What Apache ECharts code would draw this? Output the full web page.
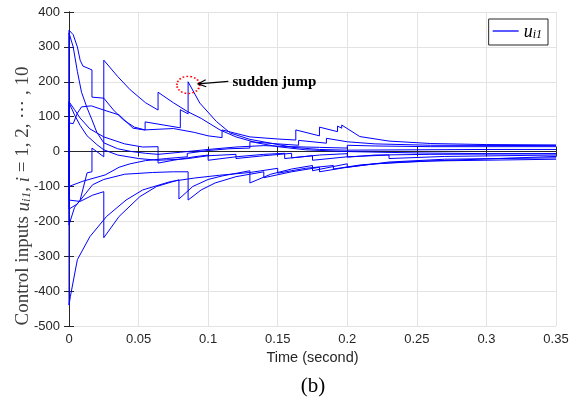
<!DOCTYPE html>
<html>
<head>
<meta charset="utf-8">
<script src="https://cdn.jsdelivr.net/npm/echarts@6/dist/echarts.min.js"></script>
<style>
  html, body { margin: 0; padding: 0; background: #fff; }
  #chart { width: 577px; height: 410px; }
</style>
</head>
<body>
<div id="chart"></div>
<script>
// axis ranges
const xMin = 0, xMax = 0.35, xStep = 0.05
const yMin = -500, yMax = 400, yStep = 100

// control inputs u_i1, i = 1..10  ([time, value])
const u1 = [[0,0],[0,348],[0.003,335],[0.006,300],[0.008,262],[0.01,245],[0.0165,234],[0.0165,156],[0.025,153],[0.032,119],[0.039,91],[0.047,70],[0.0547,62],[0.0547,85],[0.08,68],[0.08,120],[0.0856,108],[0.0856,200],[0.094,139],[0.106,86],[0.116,53],[0.13,35],[0.145,24],[0.161,12],[0.18,6],[0.2,4],[0.25,5],[0.3,6],[0.35,6]]
const u2 = [[0,0],[0,340],[0.003,300],[0.006,230],[0.009,170],[0.013,125],[0.0165,91],[0.02,55],[0.025,25],[0.035,8],[0.045,0],[0.055,-5],[0.064,-8],[0.08,-2],[0.1,6],[0.12,13],[0.14,17],[0.16,14],[0.18,12],[0.2,10],[0.2,18],[0.22,16],[0.26,14],[0.35,14]]
const u3 = [[0,0],[0,-210],[0.004,-160],[0.008,-139],[0.013,-61],[0.0165,-58],[0.0165,10],[0.025,-15],[0.025,262],[0.035,215],[0.044,177],[0.055,140],[0.064,119],[0.064,170],[0.075,140],[0.085,115],[0.095,95],[0.1085,62],[0.12,42],[0.135,25],[0.15,14],[0.17,5],[0.2,0],[0.25,-4],[0.3,-6],[0.35,-6]]
const u4 = [[0,0],[0,143],[0.004,120],[0.008,96],[0.015,65],[0.025,42],[0.04,22],[0.053,13],[0.064,14],[0.064,-33],[0.075,-25],[0.09,-15],[0.1,-10],[0.1,-25],[0.12,-15],[0.14,-8],[0.155,-5],[0.155,-20],[0.175,-12],[0.175,-25],[0.2,-15],[0.23,-10],[0.23,-20],[0.27,-14],[0.35,-10]]
const u5 = [[0,0],[0,82],[0.003,80],[0.006,110],[0.009,128],[0.016,131],[0.025,119],[0.036,105],[0.046,67],[0.054,62],[0.075,66],[0.09,55],[0.1,45],[0.11,40],[0.11,62],[0.13,42],[0.15,36],[0.163,33],[0.163,62],[0.18,45],[0.18,70],[0.193,57],[0.193,73],[0.196,67],[0.196,76],[0.209,43],[0.23,30],[0.26,23],[0.3,20],[0.35,19]]
const u6 = [[0,0],[0,-100],[0.01,-85],[0.026,-67],[0.036,-45],[0.044,-35],[0.055,-26],[0.07,-20],[0.085,-15],[0.085,-5],[0.1,3],[0.115,8],[0.13,10],[0.13,28],[0.15,22],[0.165,18],[0.165,32],[0.185,24],[0.185,38],[0.2,28],[0.22,22],[0.26,18],[0.35,17]]
const u7 = [[0,0],[0,-139],[0.008,-143],[0.017,-125],[0.025,-115],[0.025,-247],[0.036,-186],[0.051,-129],[0.063,-100],[0.079,-81],[0.079,-136],[0.089,-100],[0.1,-80],[0.11,-70],[0.13,-55],[0.13,-90],[0.145,-65],[0.16,-50],[0.175,-40],[0.175,-55],[0.2,-35],[0.2,-45],[0.23,-30],[0.27,-22],[0.35,-18]]
const u8 = [[0,0],[0,-165],[0.006,-150],[0.012,-120],[0.017,-95],[0.025,-80],[0.04,-65],[0.06,-60],[0.075,-58],[0.0856,-58],[0.0856,-139],[0.095,-110],[0.105,-90],[0.12,-72],[0.13,-65],[0.14,-58],[0.14,-75],[0.16,-58],[0.18,-45],[0.18,-58],[0.2,-45],[0.22,-35],[0.26,-27],[0.35,-22]]
const u9 = [[0,0],[0,-440],[0.001,-415],[0.006,-310],[0.015,-244],[0.027,-186],[0.041,-139],[0.053,-110],[0.073,-86],[0.09,-76],[0.108,-68],[0.13,-60],[0.15,-48],[0.15,-62],[0.17,-48],[0.19,-40],[0.19,-50],[0.21,-38],[0.24,-30],[0.28,-24],[0.35,-14]]
const u10 = [[0,0],[0,140],[0.004,105],[0.008,75],[0.013,45],[0.02,20],[0.025,5],[0.035,-10],[0.05,-20],[0.064,-25],[0.08,-22],[0.0856,-20],[0.1,-12],[0.12,-8],[0.12,-20],[0.14,-12],[0.16,-5],[0.16,-18],[0.18,-10],[0.2,-6],[0.2,-16],[0.22,-10],[0.26,-8],[0.35,-6]]

const seriesList = [u1, u2, u3, u4, u5, u6, u7, u8, u9, u10]

// annotation anchors (data coords)
const jumpCircle = [0.0857, 191]
const arrowHead = [0.0927, 194]
const arrowTail = [0.1145, 201]
const jumpLabel = [0.1175, 199]

const axisColor = '#262626'
const gridColor = '#e3e3e3'
const fmtX = v => String(Math.round(v * 100) / 100)

const chart = echarts.init(document.getElementById('chart'))

const option = {
  animation: false,
  backgroundColor: '#fff',
  grid: { left: 69, right: 21, top: 12, bottom: 84 },
  legend: {
    data: ['ui1'],
    right: 29,
    top: 19,
    padding: [4, 6, 4, 4],
    itemWidth: 26,
    itemHeight: 1.3,
    itemGap: 0,
    icon: 'rect',
    borderColor: axisColor,
    borderWidth: 1,
    backgroundColor: '#fff',
    formatter: () => '{i|u}{s|i1}',
    textStyle: {
      rich: {
        i: { fontFamily: 'Liberation Serif', fontStyle: 'italic', fontSize: 18, color: '#000', lineHeight: 20, verticalAlign: 'bottom' },
        s: { fontFamily: 'Liberation Serif', fontStyle: 'italic', fontSize: 12, color: '#000', lineHeight: 14, verticalAlign: 'bottom' }
      }
    }
  },
  xAxis: [
    {
      type: 'value', min: xMin, max: xMax, interval: xStep, position: 'bottom',
      name: 'Time (second)', nameLocation: 'middle', nameGap: 23,
      nameTextStyle: { fontFamily: 'Liberation Sans', fontSize: 14.5, color: axisColor },
      axisLine: { lineStyle: { color: axisColor, width: 1 } },
      axisTick: { inside: true, length: 5, lineStyle: { color: axisColor } },
      axisLabel: { margin: 7, fontFamily: 'Liberation Sans', fontSize: 13, color: axisColor, formatter: fmtX },
      splitLine: { show: true, lineStyle: { color: gridColor, width: 1 } }
    },
    {
      type: 'value', min: xMin, max: xMax, interval: xStep, position: 'top',
      axisLine: { lineStyle: { color: axisColor, width: 1 } },
      axisTick: { inside: true, length: 5, lineStyle: { color: axisColor } },
      axisLabel: { show: false },
      splitLine: { show: false }
    }
  ],
  yAxis: [
    {
      type: 'value', min: yMin, max: yMax, interval: yStep, position: 'left',
      axisLine: { show: true, lineStyle: { color: axisColor, width: 1 } },
      axisTick: { show: true, inside: true, length: 5, lineStyle: { color: axisColor } },
      axisLabel: { margin: 9, fontFamily: 'Liberation Sans', fontSize: 13, color: axisColor },
      splitLine: { show: true, lineStyle: { color: gridColor, width: 1 } }
    },
    {
      type: 'value', min: yMin, max: yMax, interval: yStep, position: 'right',
      axisLine: { show: true, lineStyle: { color: axisColor, width: 1 } },
      axisTick: { show: true, inside: true, length: 5, lineStyle: { color: axisColor } },
      axisLabel: { show: false },
      splitLine: { show: false }
    }
  ],
  series: seriesList.map((d, i) => ({
    name: i === 0 ? 'ui1' : 'u' + (i + 1),
    type: 'line',
    data: d,
    xAxisIndex: 0,
    yAxisIndex: 0,
    showSymbol: false,
    symbol: 'none',
    clip: true,
    z: 3,
    lineStyle: { color: '#0000ff', width: 1 },
    itemStyle: { color: '#0000ff' }
  }))
}

chart.setOption(option)

// annotation + titles drawn after the scales are known
const px = p => chart.convertToPixel({ xAxisIndex: 0, yAxisIndex: 0 }, p)
const c = px(jumpCircle)
const h = px(arrowHead)
const t = px(arrowTail)
const l = px(jumpLabel)
const ang = Math.atan2(h[1] - t[1], h[0] - t[0])
const aLen = 8, aW = 3.5
const wing = s => [h[0] - aLen * Math.cos(ang) + s * aW * Math.sin(ang), h[1] - aLen * Math.sin(ang) - s * aW * Math.cos(ang)]

chart.setOption({
  graphic: [
    {
      type: 'circle', x: c[0], y: c[1], scaleX: 1.2, scaleY: 0.9, z: 10,
      shape: { cx: 0, cy: 0, r: 9.5 },
      style: { fill: 'none', stroke: '#ff0000', lineWidth: 1.6, lineDash: [1.5, 1.8] }
    },
    {
      type: 'line', z: 10,
      shape: { x1: t[0], y1: t[1], x2: h[0], y2: h[1] },
      style: { stroke: '#000', lineWidth: 1.2 }
    },
    {
      type: 'polyline', z: 10,
      shape: { points: [wing(1), h, wing(-1)] },
      style: { stroke: '#000', lineWidth: 1.2, fill: 'none' }
    },
    {
      type: 'text', x: l[0], y: l[1], z: 10,
      style: { text: 'sudden jump', fontFamily: 'Liberation Serif', fontWeight: 'bold', fontSize: 15, fill: '#000', align: 'left', verticalAlign: 'middle' }
    },
    {
      type: 'text', x: 22, y: 196, rotation: Math.PI / 2,
      style: {
        text: '{n|Control inputs }{i|u}{s|i1}{n|, }{i|i}{n| = 1, 2, ⋯ , 10}',
        align: 'center', verticalAlign: 'middle',
        rich: {
          n: { fontFamily: 'Liberation Serif', fontSize: 19, fill: '#404040', lineHeight: 22, verticalAlign: 'bottom' },
          i: { fontFamily: 'Liberation Serif', fontStyle: 'italic', fontSize: 19, fill: '#404040', lineHeight: 22, verticalAlign: 'bottom' },
          s: { fontFamily: 'Liberation Serif', fontStyle: 'italic', fontSize: 13, fill: '#404040', lineHeight: 15, verticalAlign: 'bottom' }
        }
      }
    },
    {
      type: 'text', x: 313, y: 386,
      style: { text: '(b)', fontFamily: 'Liberation Serif', fontSize: 21, fill: '#000', align: 'center', verticalAlign: 'middle' }
    }
  ]
})
</script>
</body>
</html>
